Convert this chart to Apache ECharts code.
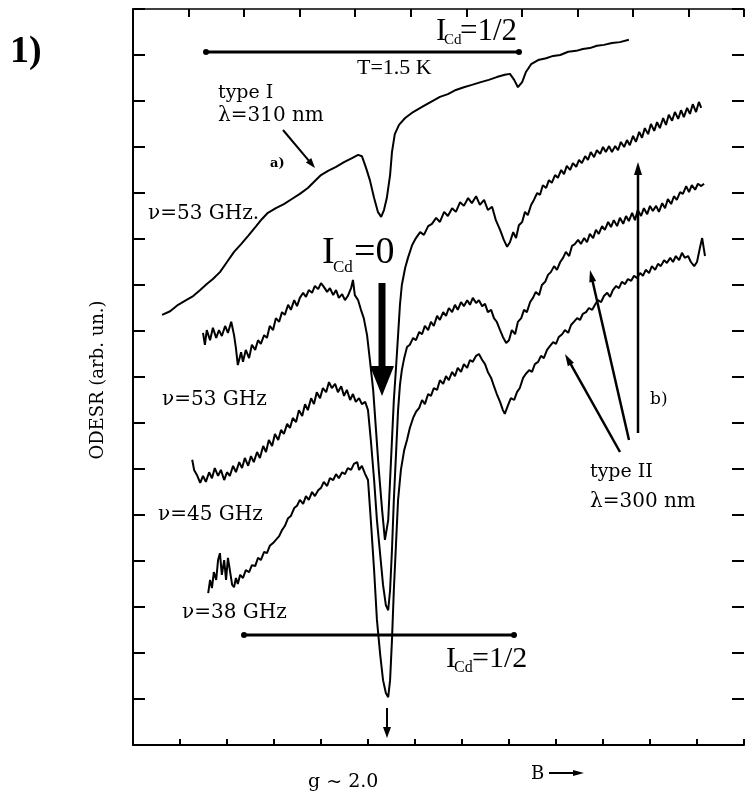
<!DOCTYPE html>
<html><head><meta charset="utf-8">
<script src="https://cdn.jsdelivr.net/npm/echarts@6/dist/echarts.min.js"></script>
<style>html,body{margin:0;padding:0;background:#fff}#c{width:745px;height:799px}</style>
</head><body><div id="c"></div>
<script>
// Axis settings (field B in arbitrary units, ODESR in arbitrary units)
const xBottomTicks = {min: 0, max: 130, interval: 10};
const xTopTicks = {min: 0, max: 110, interval: 10};
const yTicks = {min: 0, max: 160, interval: 10};

// Curve a) type I, nu = 53 GHz, I_Cd = 1/2 (smooth)
const curveA = [[6.2,93.5],[7.9,94.3],[9.6,95.7],[11.3,96.7],[12.8,97.6],[14.3,98.9],[15.7,100.2],[17.0,101.3],[18.5,102.8],[20.0,105.0],[21.5,107.2],[23.0,108.9],[24.5,110.7],[26.2,112.8],[27.4,114.3],[28.7,115.7],[30.4,116.7],[32.1,117.6],[33.8,118.7],[35.5,119.8],[37.2,121.1],[38.7,122.6],[40.0,123.9],[41.5,124.8],[43.2,125.7],[44.9,126.7],[46.6,127.6],[47.9,128.3],[48.7,128.0],[49.6,125.4],[50.4,122.8],[51.3,118.9],[52.1,115.9],[52.8,114.8],[53.4,116.3],[54.0,118.9],[54.7,123.9],[55.1,128.9],[55.7,132.8],[56.6,134.8],[57.9,136.3],[59.6,137.6],[61.5,138.7],[63.4,139.8],[65.3,140.9],[67.0,141.5],[68.7,142.4],[70.4,143.0],[72.1,143.5],[74.0,144.1],[75.7,144.6],[77.4,145.2],[79.1,145.7],[80.2,145.9],[81.1,144.6],[81.9,143.0],[82.8,144.1],[83.6,146.3],[84.7,148.0],[86.2,148.9],[87.9,149.3],[89.4,149.8],[90.9,150.0],[92.6,150.7],[94.3,150.9],[95.7,151.3],[97.2,151.5],[98.7,152.0],[100.2,152.2],[101.9,152.6],[103.6,152.8],[105.5,153.3]];

// Curve b) type II, nu = 53 GHz
const curveB = [[14.9,89.6],[15.3,87.0],[15.7,90.2],[16.4,88.0],[17.0,90.7],[17.7,88.5],[18.3,90.2],[18.9,88.9],[19.6,91.1],[20.2,89.6],[20.9,92.0],[21.5,89.1],[21.9,86.3],[22.3,82.6],[23.0,85.4],[23.4,83.3],[24.0,85.9],[24.7,84.1],[25.3,87.0],[26.0,85.9],[26.6,88.0],[27.2,87.2],[27.9,89.1],[28.5,88.5],[29.1,91.1],[29.8,90.2],[30.4,92.8],[31.1,92.0],[31.7,94.1],[32.3,93.5],[33.0,95.7],[33.6,94.6],[34.3,96.7],[34.9,95.4],[35.5,97.2],[36.2,98.3],[36.8,97.4],[37.4,98.9],[38.1,98.3],[38.7,99.8],[39.4,99.1],[40.0,100.4],[40.6,99.6],[41.3,98.5],[41.9,99.3],[42.6,97.8],[43.2,98.9],[43.8,97.2],[44.5,98.0],[45.1,96.7],[45.7,97.6],[46.4,99.3],[46.8,101.1],[47.2,97.8],[47.9,96.7],[48.5,94.6],[49.1,92.8],[49.8,89.1],[50.4,83.7],[51.1,77.2],[51.7,68.5],[52.3,59.8],[53.0,51.1],[53.6,44.6],[54.3,48.9],[54.7,57.6],[55.1,66.3],[55.5,75.0],[56.0,82.6],[56.4,89.1],[56.8,95.7],[57.2,100.0],[57.9,103.7],[58.5,105.9],[59.4,108.7],[60.2,110.2],[61.1,111.5],[61.9,110.9],[62.8,112.8],[63.6,113.3],[64.5,114.6],[65.3,113.7],[66.2,115.9],[67.0,115.0],[67.9,116.7],[68.7,115.9],[69.6,118.0],[70.4,117.2],[71.3,118.9],[72.1,117.8],[73.0,119.3],[73.8,117.4],[74.7,118.5],[75.5,116.3],[76.4,117.0],[77.2,114.1],[78.1,112.0],[78.9,109.8],[79.6,108.3],[80.2,109.3],[80.9,111.5],[81.5,110.2],[82.1,113.0],[82.8,113.7],[83.4,115.9],[84.0,115.2],[84.7,117.4],[85.3,118.5],[86.0,120.0],[86.6,119.6],[87.2,121.7],[87.9,121.1],[88.5,122.8],[89.1,122.2],[89.8,123.9],[90.4,123.3],[91.1,125.0],[91.7,124.1],[92.3,125.9],[93.0,125.0],[93.6,126.5],[94.3,125.7],[94.9,127.2],[95.5,126.5],[96.2,128.0],[96.8,127.2],[97.4,128.9],[98.1,127.8],[98.7,129.3],[99.4,128.5],[100.0,130.0],[100.6,128.9],[101.3,130.2],[101.9,128.9],[102.6,130.2],[103.2,129.3],[103.8,131.1],[104.5,130.0],[105.1,131.5],[105.7,130.4],[106.4,132.4],[107.0,131.1],[107.7,133.3],[108.3,132.0],[108.9,134.1],[109.6,132.8],[110.2,135.0],[110.9,133.5],[111.5,135.4],[112.1,134.1],[112.8,136.3],[113.4,134.8],[114.0,137.0],[114.7,135.7],[115.3,137.6],[116.0,136.1],[116.6,138.0],[117.2,136.5],[117.9,138.5],[118.5,137.2],[119.1,139.3],[119.8,137.6],[120.4,139.8],[120.9,138.5]];

// Curve c) type II, nu = 45 GHz
const curveC = [[12.6,62.0],[13.0,59.8],[13.6,58.7],[14.3,57.0],[14.9,58.5],[15.5,57.2],[16.2,59.3],[16.8,58.0],[17.4,60.2],[18.1,58.5],[18.7,59.8],[19.4,57.6],[20.0,59.3],[20.6,58.5],[21.3,60.7],[21.9,59.3],[22.6,61.5],[23.2,60.2],[23.8,62.4],[24.5,60.7],[25.1,62.8],[25.7,61.5],[26.4,63.7],[27.0,62.4],[27.7,65.0],[28.3,63.7],[28.9,66.3],[29.6,65.0],[30.2,67.6],[30.9,66.3],[31.5,68.5],[32.1,67.6],[32.8,69.8],[33.4,68.9],[34.0,71.1],[34.7,70.2],[35.3,72.8],[36.0,71.5],[36.6,74.1],[37.2,72.8],[37.9,75.4],[38.5,74.1],[39.1,76.7],[39.8,75.4],[40.4,77.6],[41.1,76.7],[41.7,78.9],[42.3,77.6],[43.0,78.5],[43.6,76.7],[44.3,78.0],[44.9,75.9],[45.5,77.2],[46.2,75.0],[46.8,76.3],[47.4,74.6],[48.1,75.4],[48.7,74.1],[49.4,74.6],[50.0,72.8],[50.6,66.3],[51.3,57.6],[51.9,48.9],[52.6,41.3],[53.2,34.8],[53.8,30.4],[54.3,29.3],[54.7,33.7],[55.1,42.4],[55.5,53.3],[56.0,64.1],[56.4,72.8],[56.8,78.3],[57.2,81.5],[57.7,84.1],[58.3,86.5],[58.9,87.0],[59.6,88.5],[60.2,88.0],[60.9,89.8],[61.5,89.3],[62.1,91.1],[62.8,90.2],[63.4,92.0],[64.0,91.1],[64.7,93.3],[65.3,92.4],[66.0,94.1],[66.6,93.3],[67.2,95.0],[67.9,94.1],[68.5,95.7],[69.1,94.6],[69.8,96.3],[70.4,95.4],[71.1,96.7],[71.7,95.7],[72.3,97.2],[73.0,96.1],[73.6,96.7],[74.3,95.4],[74.9,95.9],[75.5,94.1],[76.2,94.6],[76.8,92.8],[77.4,92.0],[78.1,90.2],[78.7,88.7],[79.4,87.4],[80.0,88.0],[80.6,90.2],[81.3,89.3],[81.9,92.0],[82.6,92.8],[83.2,94.6],[83.8,94.1],[84.5,96.3],[85.1,97.2],[85.7,98.5],[86.4,97.8],[87.0,100.0],[87.7,100.7],[88.3,102.2],[88.9,102.8],[89.6,104.1],[90.2,103.3],[90.9,105.0],[91.5,105.9],[92.1,107.2],[92.8,106.3],[93.4,108.5],[94.0,108.9],[94.7,109.8],[95.3,108.9],[96.0,110.2],[96.6,109.3],[97.2,111.1],[97.9,110.2],[98.5,112.0],[99.1,111.1],[99.8,112.8],[100.4,112.0],[101.1,113.7],[101.7,112.6],[102.3,114.1],[103.0,112.8],[103.6,114.6],[104.3,113.3],[104.9,115.0],[105.5,113.9],[106.2,115.7],[106.8,114.1],[107.4,116.3],[108.1,115.0],[108.7,116.7],[109.4,115.4],[110.0,117.2],[110.6,116.1],[111.3,117.2],[111.9,115.9],[112.6,117.8],[113.2,116.7],[113.8,118.7],[114.5,117.6],[115.1,119.3],[115.7,118.5],[116.4,120.2],[117.0,119.8],[117.7,121.5],[118.3,120.2],[118.9,121.7],[119.6,120.7],[120.2,122.0],[120.9,121.5],[121.5,122.0]];

// Curve d) type II, nu = 38 GHz
const curveD = [[16.0,33.0],[16.4,35.9],[16.8,34.1],[17.2,37.6],[17.7,35.9],[18.1,40.2],[18.5,41.7],[18.9,37.0],[19.4,40.2],[19.8,35.9],[20.2,40.7],[20.6,40.9],[21.1,34.8],[21.5,34.3],[21.9,36.3],[22.3,35.0],[22.8,37.0],[23.4,36.3],[24.0,38.0],[24.7,37.6],[25.3,39.1],[26.0,38.9],[26.6,40.7],[27.2,40.2],[27.9,42.0],[28.5,41.7],[29.1,43.3],[29.8,43.9],[30.4,44.6],[31.1,45.4],[31.7,46.7],[32.3,47.6],[33.0,49.3],[33.6,49.8],[34.3,51.5],[34.9,52.0],[35.5,53.3],[36.2,52.4],[36.8,54.1],[37.4,53.3],[38.1,55.0],[38.7,54.1],[39.4,55.4],[40.0,55.9],[40.6,57.2],[41.3,56.3],[41.9,58.0],[42.6,57.6],[43.2,58.9],[43.8,58.0],[44.5,59.3],[45.1,58.9],[45.7,60.2],[46.4,59.8],[47.0,61.1],[47.7,61.5],[48.1,59.8],[48.7,60.7],[49.4,58.9],[50.0,57.6],[50.6,48.9],[51.3,38.0],[51.9,27.2],[52.6,19.6],[53.2,14.1],[53.8,11.3],[54.3,10.4],[54.7,14.1],[55.1,22.8],[55.5,33.7],[56.0,44.6],[56.4,53.3],[57.0,59.8],[57.7,64.1],[58.3,66.3],[58.9,68.9],[59.6,71.1],[60.2,72.4],[60.9,73.3],[61.5,75.0],[62.1,74.1],[62.8,76.3],[63.4,75.9],[64.0,77.6],[64.7,77.2],[65.3,79.3],[66.0,78.5],[66.6,80.2],[67.2,79.3],[67.9,81.1],[68.5,80.2],[69.1,82.0],[69.8,81.1],[70.4,82.8],[71.1,82.0],[71.7,83.7],[72.3,83.3],[73.0,84.6],[73.6,85.0],[74.3,83.7],[74.9,82.8],[75.5,81.1],[76.2,79.8],[76.8,78.0],[77.4,76.3],[78.1,74.6],[78.7,72.8],[79.1,72.0],[79.8,73.9],[80.4,75.4],[81.1,75.0],[81.7,76.7],[82.3,77.6],[83.0,79.8],[83.6,80.7],[84.3,81.5],[84.9,81.1],[85.5,82.8],[86.2,83.3],[86.8,84.6],[87.4,84.1],[88.1,85.9],[88.7,86.7],[89.4,87.6],[90.0,87.2],[90.6,88.7],[91.3,89.3],[91.9,90.2],[92.6,89.6],[93.2,91.3],[93.8,92.0],[94.5,92.8],[95.1,92.4],[95.7,93.7],[96.4,94.1],[97.0,95.0],[97.7,94.6],[98.3,95.7],[98.9,96.7],[99.6,96.3],[100.2,97.6],[100.9,98.3],[101.5,97.4],[102.1,98.9],[102.8,99.8],[103.4,99.3],[104.0,100.7],[104.7,100.2],[105.3,101.3],[106.0,100.9],[106.6,102.0],[107.2,101.5],[107.9,102.6],[108.5,102.0],[109.1,103.3],[109.8,102.6],[110.4,104.1],[111.1,103.3],[111.7,104.6],[112.3,104.1],[113.0,105.4],[113.6,104.8],[114.3,105.9],[114.9,105.0],[115.5,106.3],[116.2,105.4],[116.8,107.0],[117.4,105.9],[118.1,106.3],[118.7,105.0],[119.4,104.1],[120.0,105.0],[120.6,108.0],[121.1,110.2],[121.5,107.6],[121.7,106.3]];

const SERIF = '"Liberation Serif", "Times New Roman", serif';
const SERIF2 = '"DejaVu Serif", serif';

const chart = echarts.init(document.getElementById('c'), null, {renderer: 'canvas'});

function lineSeries(data) {
  return {type: 'line', data: data, showSymbol: false, symbol: 'none', smooth: false,
    xAxisIndex: 0, yAxisIndex: 0, silent: true,
    lineStyle: {color: '#000', width: 2}, z: 3};
}
function axisCommon(extra) {
  return Object.assign({type: 'value', axisLabel: {show: false}, splitLine: {show: false},
    axisLine: {show: true, onZero: false, lineStyle: {color: '#000', width: 2}}}, extra);
}
function txt(text, x, y, font, extra) {
  return Object.assign({type: 'text', x: x, y: y, z: 10, silent: true,
    style: {text: text, font: font, fill: '#000', textAlign: 'left', textVerticalAlign: 'middle'}}, extra || {});
}
function arrow(x1, y1, x2, y2, w, hl, hw) {
  const a = Math.atan2(y2 - y1, x2 - x1);
  const bx = x2 - hl * Math.cos(a), by = y2 - hl * Math.sin(a);
  const px = -Math.sin(a) * hw / 2, py = Math.cos(a) * hw / 2;
  return [
    {type: 'line', z: 10, silent: true, shape: {x1: x1, y1: y1, x2: bx + Math.cos(a) * 2, y2: by + Math.sin(a) * 2}, style: {stroke: '#000', lineWidth: w}},
    {type: 'polygon', z: 10, silent: true, shape: {points: [[x2, y2], [bx + px, by + py], [bx - px, by - py]]}, style: {fill: '#000'}}
  ];
}

const graphics = [].concat(
  [txt('1)', 10, 52, 'bold 38px ' + SERIF)],
  // top bracket I_Cd = 1/2
  [{type: 'line', z: 10, shape: {x1: 205, y1: 52, x2: 520, y2: 52}, style: {stroke: '#000', lineWidth: 3}},
   {type: 'circle', z: 10, shape: {cx: 206, cy: 52, r: 3}, style: {fill: '#000'}},
   {type: 'circle', z: 10, shape: {cx: 519, cy: 52, r: 3}, style: {fill: '#000'}}],
  [txt('I', 436, 32, '31px ' + SERIF), txt('Cd', 444, 40, '15px ' + SERIF), txt('=1/2', 460, 32, '31px ' + SERIF)],
  [txt('T=1.5 K', 357, 68, '22px ' + SERIF)],
  [txt('type I', 218, 93, '19px ' + SERIF2), txt('λ=310 nm', 218, 116, '20px ' + SERIF2)],
  arrow(283, 130, 315, 168, 2, 10, 7),
  [txt('a)', 270, 164, 'bold 13px ' + SERIF2)],
  [txt('ν=53 GHz.', 148, 214, '20px ' + SERIF2)],
  // I_Cd = 0 with thick arrow
  [txt('I', 322, 253, '38px ' + SERIF), txt('Cd', 333, 268, '17px ' + SERIF), txt('=0', 354, 253, '38px ' + SERIF)],
  [{type: 'rect', z: 10, shape: {x: 378.5, y: 283, width: 7, height: 85}, style: {fill: '#000'}},
   {type: 'polygon', z: 10, shape: {points: [[370, 366], [394, 366], [382, 396]]}, style: {fill: '#000'}}],
  [txt('ν=53 GHz', 162, 400, '20px ' + SERIF2),
   txt('ν=45 GHz', 158, 515, '20px ' + SERIF2),
   txt('ν=38 GHz', 182, 613, '20px ' + SERIF2)],
  // bottom bracket
  [{type: 'line', z: 10, shape: {x1: 243, y1: 635, x2: 515, y2: 635}, style: {stroke: '#000', lineWidth: 3}},
   {type: 'circle', z: 10, shape: {cx: 244, cy: 635, r: 3}, style: {fill: '#000'}},
   {type: 'circle', z: 10, shape: {cx: 514, cy: 635, r: 3}, style: {fill: '#000'}}],
  [txt('I', 446, 659, '30px ' + SERIF), txt('Cd', 454, 668, '16px ' + SERIF), txt('=1/2', 472, 659, '30px ' + SERIF)],
  arrow(387, 708, 387, 738, 2, 11, 8),
  // type II arrows
  arrow(638, 433, 638, 162, 2.5, 13, 8),
  arrow(629, 440, 590, 270, 2.5, 12, 7),
  arrow(620, 452, 565, 354, 2.5, 12, 7),
  [txt('b)', 650, 400, '17px ' + SERIF2),
   txt('type II', 590, 472, '19px ' + SERIF2),
   txt('λ=300 nm', 590, 502, '20px ' + SERIF2)],
  [txt('g ~ 2.0', 308, 782, '19px ' + SERIF2), txt('B', 531, 774, '18px ' + SERIF2)],
  arrow(549, 773, 584, 773, 2, 11, 6),
  [txt('ODESR (arb. un.)', 98, 380, '18px ' + SERIF2, {rotation: Math.PI / 2, style: {text: 'ODESR (arb. un.)', font: '18px ' + SERIF2, fill: '#000', textAlign: 'center', textVerticalAlign: 'middle'}})]
);

chart.setOption({
  animation: false,
  backgroundColor: '#fff',
  grid: {left: 133, right: 1, top: 9, bottom: 54, containLabel: false},
  xAxis: [
    axisCommon(Object.assign({position: 'bottom', axisTick: {show: true, inside: true, length: 6, lineStyle: {color: '#000', width: 2}}}, xBottomTicks)),
    axisCommon(Object.assign({position: 'top', axisLine: {show: true, onZero: false, lineStyle: {color: '#000', width: 1.5}},
      axisTick: {show: true, inside: true, length: 8, lineStyle: {color: '#000', width: 2}}}, xTopTicks))
  ],
  yAxis: [
    axisCommon(Object.assign({position: 'left', axisTick: {show: true, inside: true, length: 12, lineStyle: {color: '#000', width: 2}}}, yTicks)),
    axisCommon(Object.assign({position: 'right', axisLine: {show: false, onZero: false},
      axisTick: {show: true, inside: true, length: 12, lineStyle: {color: '#000', width: 2}}}, yTicks))
  ],
  series: [lineSeries(curveA), lineSeries(curveB), lineSeries(curveC), lineSeries(curveD)],
  graphic: {elements: graphics}
});
</script>
</body></html>
